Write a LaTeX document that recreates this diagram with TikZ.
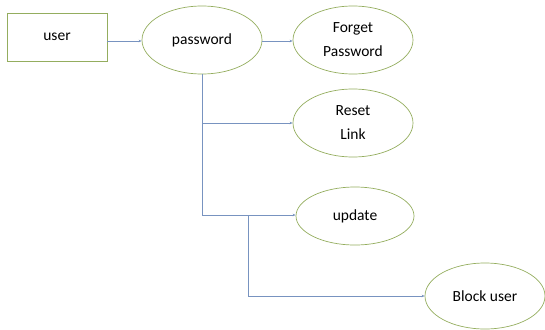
\documentclass[tikz,border=0pt]{standalone}
\usepackage{fontspec}
\setmainfont{Carlito}
\usepackage{tikz}
\usetikzlibrary{shapes.geometric,arrows.meta}

\definecolor{boxgreen}{HTML}{94AD5E}
\definecolor{linkblue}{HTML}{7893C0}

\begin{document}
\begin{tikzpicture}[x=1pt, y=-1pt,
    every node/.style={font=\fontsize{15.5}{24}\selectfont},
    entity/.style={draw=boxgreen, line width=0.8pt, minimum width=100pt, minimum height=48pt, inner sep=0pt},
    task/.style={ellipse, draw=boxgreen, line width=0.7pt, minimum width=120pt, minimum height=68pt, inner sep=0pt, align=center},
    link/.style={draw=linkblue, line width=0.6pt},
    tip/.style={link, -{Stealth[length=3pt, width=2.5pt]}}]
        \useasboundingbox (0, 0) rectangle (545, 329);

        % user
        \node [entity] (user) at (57, 37) {user};

        % password
        \node [task] (password) at (202, 40) {password};

        % Forget Password
        \node [task] (forget) at (353, 40) {Forget\\Password};

        % Reset Link
        \node [task] (reset) at (353, 123) {Reset\\Link};

        % update
        \node [task, minimum width=118pt, minimum height=58pt] (update) at (355, 216) {update};

        % Block user
        \node [task, minimum height=66pt] (block) at (485, 296) {Block user};

        % the branch points
        \coordinate (fork) at (202, 123);
        \coordinate (lower) at (202, 215);
        \coordinate (drop) at (248, 215);

        % arrows
        \draw [tip] (user.east |- 0, 41) -- (password.west |- 0, 41);
        \draw [tip] (password.east |- 0, 41) -- (forget.west |- 0, 41);
        \draw [link] (password.south) -- (lower);
        \draw [tip] (fork) -- (reset.west);
        \draw [tip] (lower) -- (update.west |- lower);
        \draw [tip] (drop) |- (block.west);

      \end{tikzpicture}
\end{document}
